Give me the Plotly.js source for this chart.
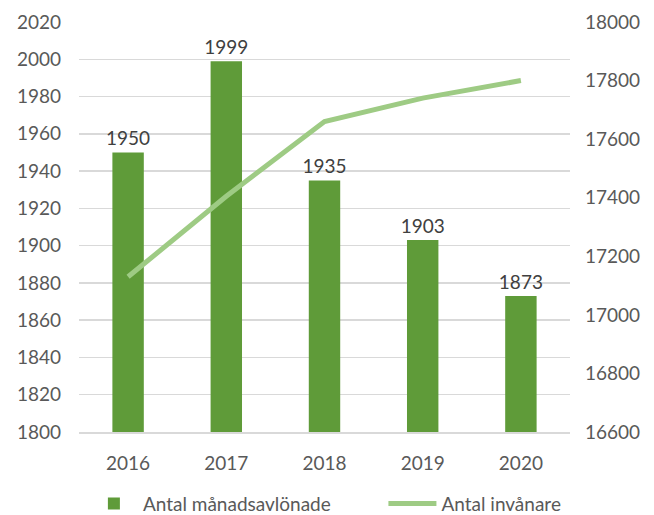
<!DOCTYPE html>
<html>
<head>
<meta charset="utf-8">
<script src="https://cdn.plot.ly/plotly-3.0.1.min.js"></script>
<style>
html,body{margin:0;padding:0;background:#fff;}
#chart{width:654px;height:515px;}
</style>
</head>
<body>
<div id="chart"></div>
<script>
const years = ['2016', '2017', '2018', '2019', '2020'];
const employees = [1950, 1999, 1935, 1903, 1873];
const inhabitants = [17130, 17405, 17660, 17740, 17800];
const leftTicks = [1800, 1820, 1840, 1860, 1880, 1900, 1920, 1940, 1960, 1980, 2000, 2020];
const rightTicks = [16600, 16800, 17000, 17200, 17400, 17600, 17800, 18000];
const seriesNames = ['Antal månadsavlönade', 'Antal invånare'];

const font = {family: 'Lato, Carlito, "Open Sans", sans-serif', size: 19, color: '#595959'};

const traces = [
  {
    type: 'bar', x: years, y: employees, name: seriesNames[0],
    marker: {color: '#5f9b39'},
    text: employees.map(String), textposition: 'outside', cliponaxis: false,
    constraintext: 'none',
    textfont: {family: font.family, size: 19, color: '#404040'},
    legend: 'legend'
  },
  {
    type: 'scatter', mode: 'lines', x: years, y: inhabitants, name: seriesNames[1],
    yaxis: 'y2', line: {color: '#9ecb84', width: 5},
    legend: 'legend2'
  }
];

const legendBase = {
  orientation: 'h', xanchor: 'left', yref: 'container', y: 0.022, yanchor: 'middle',
  font: font, itemwidth: 48, bgcolor: 'rgba(0,0,0,0)'
};

const layout = {
  width: 654, height: 515,
  margin: {l: 79, r: 84, t: 22, b: 83},
  paper_bgcolor: '#fff', plot_bgcolor: '#fff',
  font: font,
  bargap: 0.68,
  showlegend: true,
  legend: Object.assign({}, legendBase, {x: 0.012}),
  legend2: Object.assign({}, legendBase, {x: 0.62}),
  xaxis: {
    type: 'category', showgrid: false, showline: true, linecolor: '#d9d9d9', linewidth: 1.5,
    ticks: '', ticklabelstandoff: 14, tickfont: font
  },
  yaxis: {
    range: [1800, 2020], tickvals: leftTicks, ticktext: leftTicks.map(String),
    showgrid: true, gridcolor: '#d9d9d9', gridwidth: 1.5, zeroline: false,
    showline: false, ticks: '', ticklabelstandoff: 17, tickfont: font
  },
  yaxis2: {
    overlaying: 'y', side: 'right', range: [16600, 18000],
    tickvals: rightTicks, ticktext: rightTicks.map(String),
    showgrid: false, zeroline: false, showline: false, ticks: '',
    ticklabelstandoff: 14, tickfont: font
  }
};

Plotly.newPlot('chart', traces, layout, {displayModeBar: false, staticPlot: true});
</script>
</body>
</html>
